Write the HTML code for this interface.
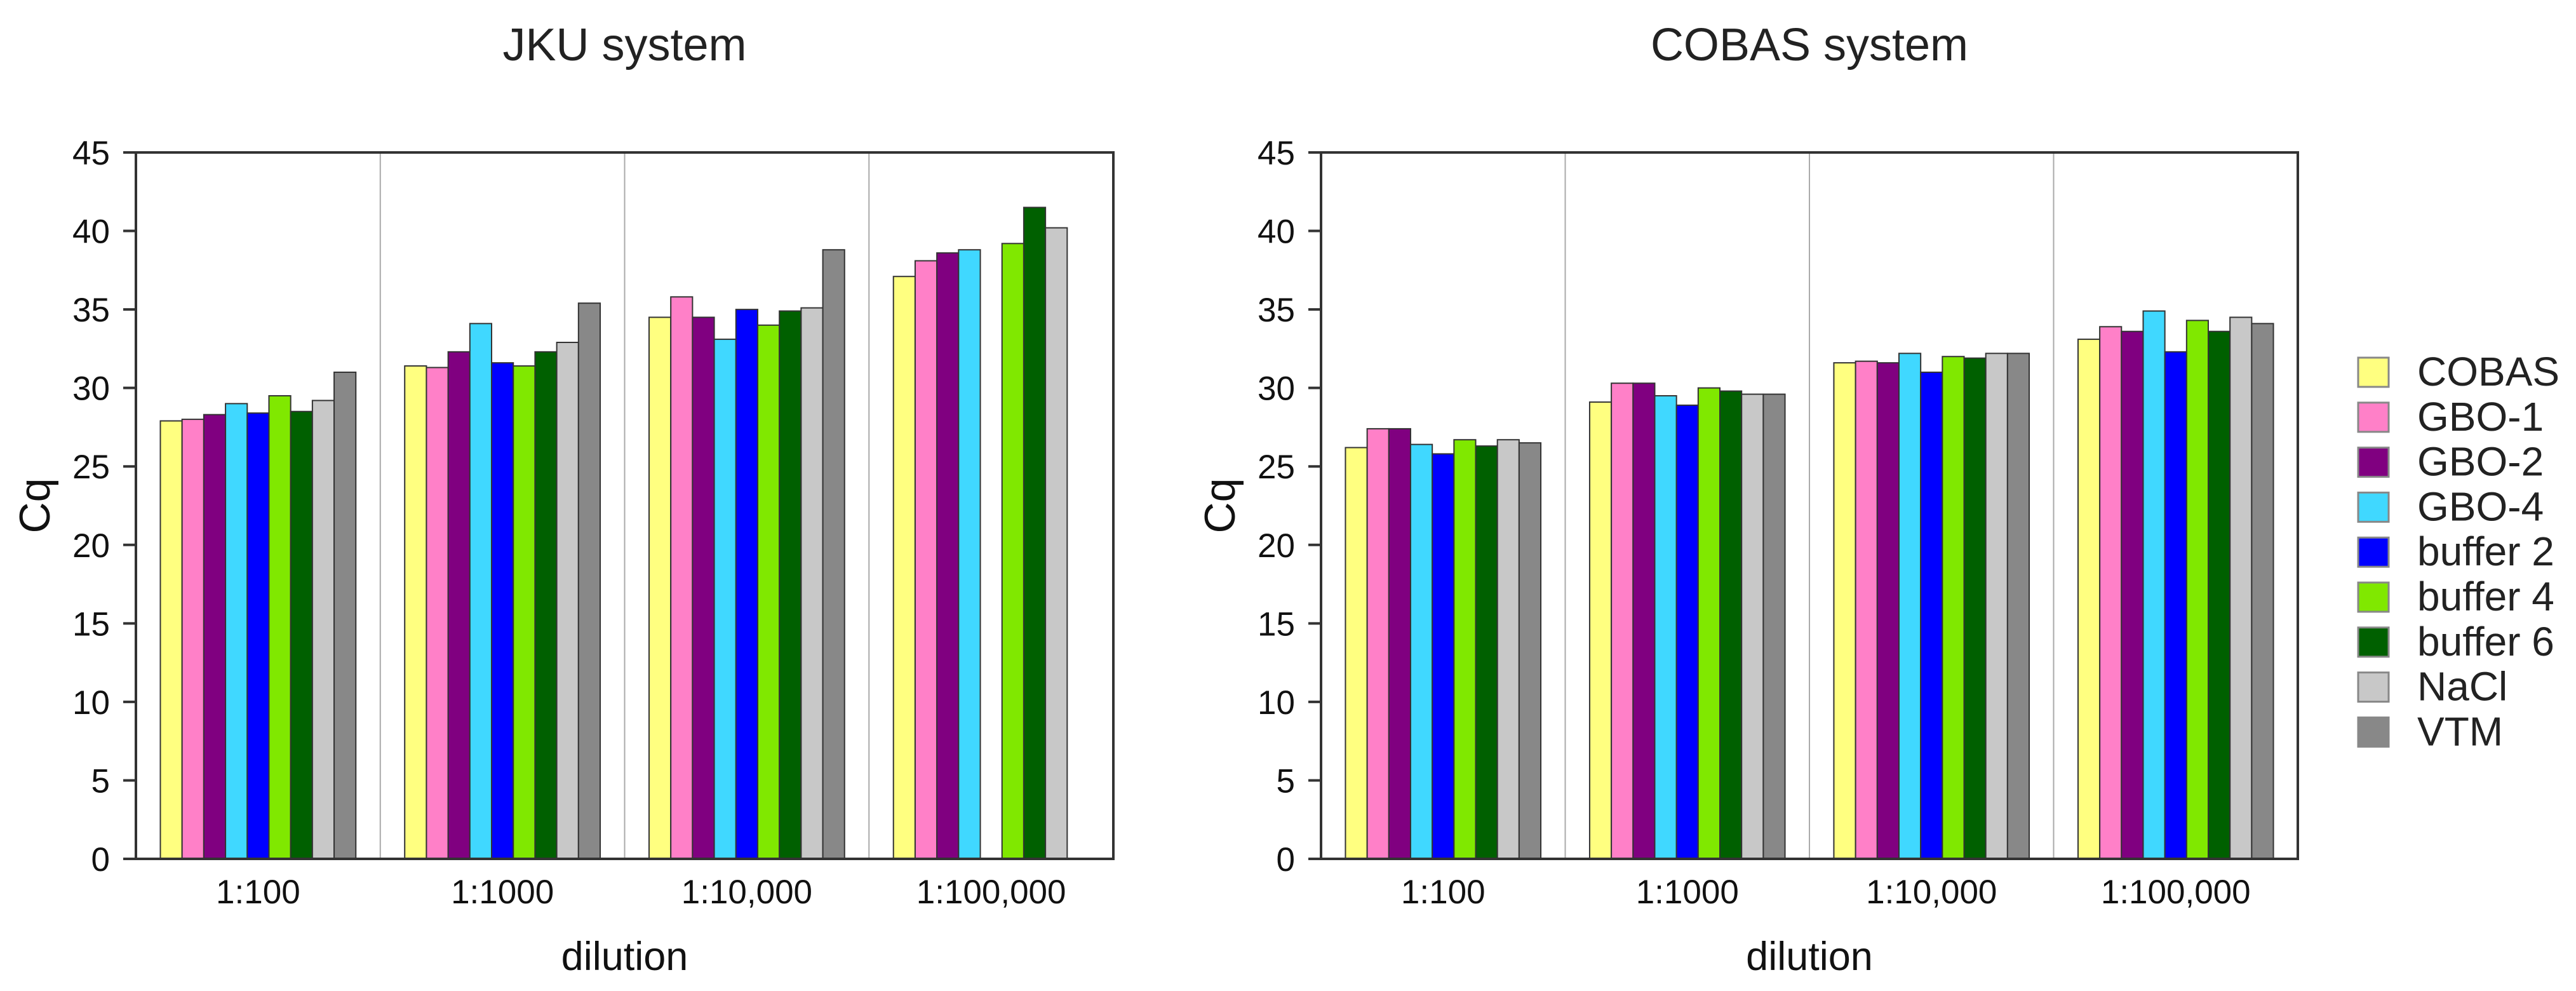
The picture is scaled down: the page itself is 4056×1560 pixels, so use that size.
<!DOCTYPE html>
<html><head><meta charset="utf-8"><style>
html,body{margin:0;padding:0;background:#fff;}
svg{display:block;font-family:"Liberation Sans",Arial,sans-serif;}
</style></head><body>
<svg id="chart" width="4056" height="1560" viewBox="0 0 4056 1560" xmlns="http://www.w3.org/2000/svg"></svg>
<script>
const categories = ["1:100","1:1000","1:10,000","1:100,000"];
const seriesNames = ["COBAS","GBO-1","GBO-2","GBO-4","buffer 2","buffer 4","buffer 6","NaCl","VTM"];
const seriesColors = ["#ffff80","#ff80c8","#800080","#40d8ff","#0000ff","#80e800","#006000","#c8c8c8","#888888"];
const yTicks = [0,5,10,15,20,25,30,35,40,45];
// JKU values per series (per category)
const jkuCOBAS = [27.9,31.4,34.5,37.1];
const jkuGBO1 = [28.0,31.3,35.8,38.1];
const jkuGBO2 = [28.3,32.3,34.5,38.6];
const jkuGBO4 = [29.0,34.1,33.1,38.8];
const jkuBuf2 = [28.4,31.6,35.0,null];
const jkuBuf4 = [29.5,31.4,34.0,39.2];
const jkuBuf6 = [28.5,32.3,34.9,41.5];
const jkuNaCl = [29.2,32.9,35.1,40.2];
const jkuVTM = [31.0,35.4,38.8,null];
// COBAS values
const cobCOBAS = [26.2,29.1,31.6,33.1];
const cobGBO1 = [27.4,30.3,31.7,33.9];
const cobGBO2 = [27.4,30.3,31.6,33.6];
const cobGBO4 = [26.4,29.5,32.2,34.9];
const cobBuf2 = [25.8,28.9,31.0,32.3];
const cobBuf4 = [26.7,30.0,32.0,34.3];
const cobBuf6 = [26.3,29.8,31.9,33.6];
const cobNaCl = [26.7,29.6,32.2,34.5];
const cobVTM = [26.5,29.6,32.2,34.1];

const jkuData = [jkuCOBAS,jkuGBO1,jkuGBO2,jkuGBO4,jkuBuf2,jkuBuf4,jkuBuf6,jkuNaCl,jkuVTM];
const cobData = [cobCOBAS,cobGBO1,cobGBO2,cobGBO4,cobBuf2,cobBuf4,cobBuf6,cobNaCl,cobVTM];

const NS = "http://www.w3.org/2000/svg";
const svg = document.getElementById("chart");
function mk(tag, attrs, parent){
  const e = document.createElementNS(NS, tag);
  for (const k in attrs) e.setAttribute(k, attrs[k]);
  (parent||svg).appendChild(e);
  return e;
}
const Y0 = 1352, Y45 = 240, YMAX = 45;
function yScale(v){ return Y0 - (v / YMAX) * (Y0 - Y45); }

function drawPanel(x0, x1, title, data, key){
  const g = mk("g", {});
  
  
  const groupW = (x1 - x0) / categories.length;
  const barW = groupW * 0.8 / seriesNames.length;
  function xScale(ci, si){ return x0 + ci * groupW + groupW * 0.1 + si * barW; }
  const t = mk("text", {x:(x0+x1)/2, y:95, "font-size":72, "text-anchor":"middle", fill:"#222"}, g);
  t.textContent = title;
  
  
  for (let i=1;i<categories.length;i++){
    const sx = x0 + i*groupW;
    const l = mk("line", {x1:sx, y1:Y45, x2:sx, y2:Y0, stroke:"#aaaaaa", "stroke-width":2}, g);
    
    
  }
  data.forEach((series, si) => {
    series.forEach((v, ci) => {
      if (v === null) return;
      const bx = xScale(ci, si);
      const by = yScale(v);
      const r = mk("rect", {x:bx, y:by, width:barW, height:Y0-by, fill:seriesColors[si], stroke:"#333", "stroke-width":2}, g);
      
      
    });
  });
  const f = mk("rect", {x:x0, y:Y45, width:x1-x0, height:Y0-Y45, fill:"none", stroke:"#333", "stroke-width":4}, g);
  
  
  yTicks.forEach(v => {
    const y = yScale(v);
    const tk = mk("line", {x1:x0-20, y1:y, x2:x0, y2:y, stroke:"#333", "stroke-width":4}, g);
    
    
    const tl = mk("text", {x:x0-41, y:y+19, "font-size":53, "text-anchor":"end", fill:"#111"}, g);
    tl.textContent = v;
    
    
  });
  categories.forEach((c, ci) => {
    const cl = mk("text", {x:x0 + (ci+0.5)*groupW, y:1422, "font-size":53, "text-anchor":"middle", fill:"#111"}, g);
    cl.textContent = c;
    
    
  });
  const xt = mk("text", {x:(x0+x1)/2, y:1527, "font-size":63, "text-anchor":"middle", fill:"#111"}, g);
  xt.textContent = "dilution";
  
  
  const yc = (Y0+Y45)/2;
  const yx = x0-136;
  const yt = mk("text", {x:yx, y:yc, "font-size":68, "text-anchor":"middle", transform:"rotate(-90 "+yx+" "+yc+")", fill:"#111"}, g);
  yt.textContent = "Cq";
  
  
}
drawPanel(214, 1753, "JKU system", jkuData, "jku");
drawPanel(2080, 3618, "COBAS system", cobData, "cobas");

const lg = mk("g", {});


seriesNames.forEach((n, i) => {
  const y = 563 + i*70.8;
  const sq = mk("rect", {x:3713, y:y, width:48, height:46, fill:seriesColors[i], stroke:"#888", "stroke-width":3}, lg);
  
  
  const tx = mk("text", {x:3806, y:y+44, "font-size":64, fill:"#222"}, lg);
  tx.textContent = n;
  
  
});
</script>
</body></html>
